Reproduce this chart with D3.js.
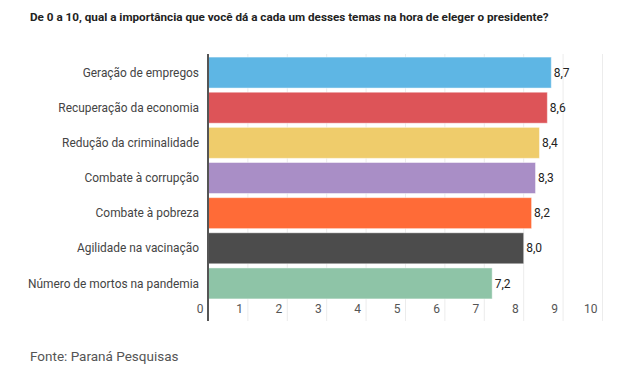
<!DOCTYPE html>
<html>
<head>
<meta charset="utf-8">
<script src="https://cdn.jsdelivr.net/npm/d3@7"></script>
<style>
  body { margin: 0; background: #fff; }
  text { font-family: Roboto, "Noto Sans", sans-serif; }
</style>
</head>
<body>
<div id="chart"></div>
<script>
    // Chart data
    const categories = [
        'Geração de empregos',
        'Recuperação da economia',
        'Redução da criminalidade',
        'Combate à corrupção',
        'Combate à pobreza',
        'Agilidade na vacinação',
        'Número de mortos na pandemia'
    ];
    const values = [8.7, 8.6, 8.4, 8.3, 8.2, 8.0, 7.2];
    const colors = ['#5eb6e4', '#dd5458', '#efcc6b', '#a98ec6', '#ff6b37', '#4c4c4c', '#8ec4a7'];
    const tickValues = [0, 1, 2, 3, 4, 5, 6, 7, 8, 9, 10];

    const W = 627, H = 373;
    const gridTop = 54, gridBottom = 321;

    const svg = d3.select('#chart').append('svg')
        .attr('width', W)
        .attr('height', H);

    svg.append('text')
        .attr('x', 30).attr('y', 21)
        .attr('font-size', 11.7).attr('font-weight', 'bold')
        .attr('fill', '#222')
        .text('De 0 a 10, qual a importância que você dá a cada um desses temas na hora de eleger o presidente?');

    const x = d3.scaleLinear().domain([0, 10]).range([208, 602]);
    const y = d3.scaleBand().domain(categories).range([55, 301])
        .paddingInner(0.09).paddingOuter(0.045);

    // gridlines + tick labels
    const axis = svg.append('g')
        .attr('transform', 'translate(0,' + gridBottom + ')')
        .call(d3.axisBottom(x).tickValues(tickValues).tickSize(-(gridBottom - gridTop)).tickFormat(d3.format('d')));
    axis.select('.domain').remove();
    axis.selectAll('.tick line').attr('stroke', '#ececec');
    axis.selectAll('.tick text')
        .attr('text-anchor', 'end')
        .attr('x', -5).attr('y', -8).attr('dy', null)
        .attr('font-size', 12).attr('fill', '#555')
        .attr('font-family', 'Roboto, sans-serif');

    // bars
    svg.append('g').selectAll('rect')
        .data(values)
        .join('rect')
        .attr('x', x(0) + 0.5)
        .attr('y', (d, i) => y(categories[i]) + 0.5)
        .attr('width', d => x(d) - x(0))
        .attr('height', y.bandwidth() - 1)
        .attr('fill', (d, i) => colors[i])
        .attr('stroke', 'rgba(255,255,255,0.45)')
        .attr('stroke-width', 1);

    // value labels
    svg.append('g').selectAll('text')
        .data(values)
        .join('text')
        .attr('x', d => x(d) + 3)
        .attr('y', (d, i) => y(categories[i]) + y.bandwidth() / 2)
        .attr('dy', '0.35em')
        .attr('font-size', 12).attr('fill', '#222')
        .text(d => d3.format('.1f')(d).replace('.', ','));

    // category labels
    svg.append('g').selectAll('text')
        .data(categories)
        .join('text')
        .attr('x', 199)
        .attr('y', d => y(d) + y.bandwidth() / 2)
        .attr('dy', '0.35em')
        .attr('text-anchor', 'end')
        .attr('font-size', 11.9).attr('fill', '#444')
        .text(d => d);

    // vertical zero axis line
    svg.append('line')
        .attr('x1', x(0)).attr('x2', x(0))
        .attr('y1', gridTop).attr('y2', gridBottom)
        .attr('stroke', '#555').attr('stroke-width', 2);

    svg.append('text')
        .attr('x', 30).attr('y', 361)
        .attr('font-size', 13.5).attr('fill', '#555')
        .text('Fonte: Paraná Pesquisas');
</script>
</body>
</html>
